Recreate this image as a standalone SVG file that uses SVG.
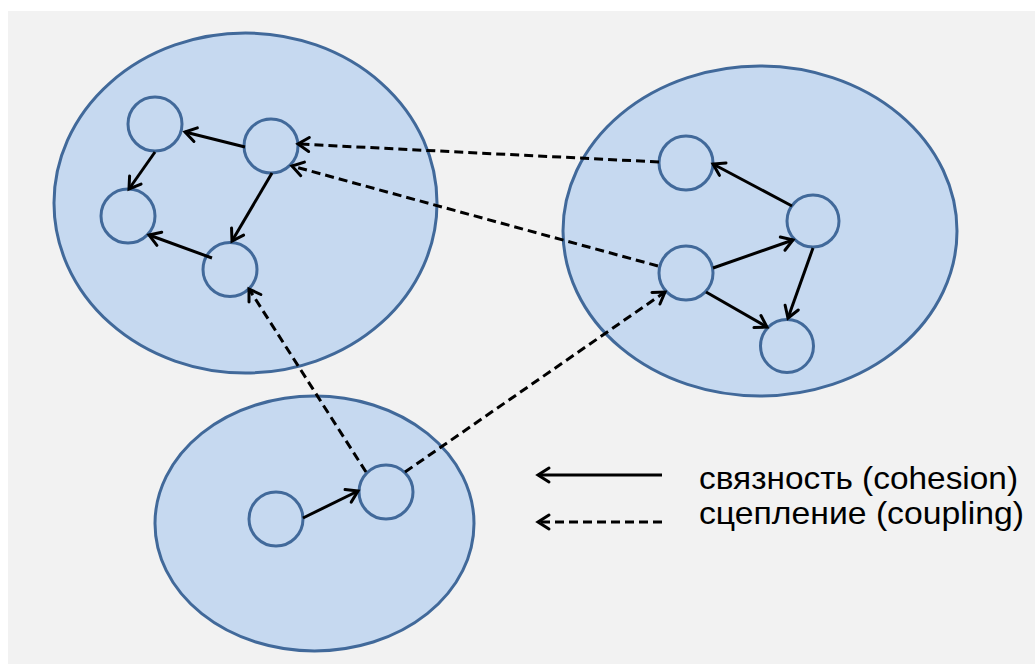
<svg xmlns="http://www.w3.org/2000/svg" width="1035" height="664" viewBox="0 0 1035 664">
<style>
.cluster{fill:#c6d9f0;stroke:#41699a;stroke-width:3}
.node{fill:#c6d9f0;stroke:#41699a;stroke-width:3}
.sol{stroke:#000;stroke-width:3;fill:none;marker-end:url(#arr)}
.dsh{stroke:#000;stroke-width:3;fill:none;stroke-dasharray:9 5;marker-end:url(#arr)}
.lbl{font-family:"Liberation Sans",Arial,sans-serif;font-size:32px;fill:#000}
</style>
<defs>
<marker id="arr" markerUnits="userSpaceOnUse" viewBox="-15 -10 18 20" refX="0" refY="0" markerWidth="18" markerHeight="20" orient="auto">
<path d="M-11,-7 L0,0 L-11,7" fill="none" stroke="#000" stroke-width="3" stroke-linecap="round" stroke-linejoin="miter"/>
</marker>
</defs>
<rect x="0" y="0" width="1035" height="664" fill="#ffffff"/>
<rect x="8" y="11" width="1027" height="653" fill="#f2f2f2"/>
<g id="cluster1"><ellipse class="cluster" cx="245.5" cy="203" rx="191.5" ry="170"/></g>
<g id="cluster2"><ellipse class="cluster" cx="760" cy="231" rx="197" ry="165"/></g>
<g id="cluster3"><ellipse class="cluster" cx="314.5" cy="523.5" rx="159.5" ry="127.5"/></g>
<g id="nodeA"><circle class="node" cx="155" cy="124" r="27"/></g>
<g id="nodeB"><circle class="node" cx="271" cy="146" r="27"/></g>
<g id="nodeC"><circle class="node" cx="128" cy="216" r="27"/></g>
<g id="nodeD"><circle class="node" cx="230" cy="269.5" r="27"/></g>
<g id="nodeE"><circle class="node" cx="686" cy="163" r="27"/></g>
<g id="nodeF"><circle class="node" cx="813" cy="221" r="26"/></g>
<g id="nodeG"><circle class="node" cx="686" cy="273" r="27"/></g>
<g id="nodeH"><circle class="node" cx="787" cy="346" r="26.5"/></g>
<g id="nodeI"><circle class="node" cx="276" cy="519" r="27"/></g>
<g id="nodeJ"><circle class="node" cx="386" cy="492" r="27"/></g>
<g id="connectors">
<line class="sol" x1="245" y1="147" x2="185" y2="132"/>
<line class="sol" x1="155" y1="152" x2="129" y2="189"/>
<line class="sol" x1="272" y1="173" x2="232" y2="241"/>
<line class="sol" x1="212" y1="258" x2="149" y2="235"/>
<line class="sol" x1="792" y1="206" x2="713" y2="164"/>
<line class="sol" x1="713" y1="268" x2="793" y2="240"/>
<line class="sol" x1="813" y1="248" x2="788" y2="318"/>
<line class="sol" x1="706" y1="292" x2="767" y2="327"/>
<line class="sol" x1="303" y1="518" x2="358" y2="491"/>
<line class="dsh" x1="659" y1="162" x2="298" y2="144"/>
<line class="dsh" x1="658" y1="266" x2="292" y2="166"/>
<line class="dsh" x1="366" y1="472" x2="249" y2="289"/>
<line class="dsh" x1="405" y1="472" x2="665" y2="292"/>
</g>
<g id="legend">
<line class="sol" x1="662" y1="475" x2="538" y2="475"/>
<line class="dsh" x1="662" y1="522" x2="538" y2="522"/>
<text class="lbl" x="699" y="489" textLength="319" lengthAdjust="spacingAndGlyphs">связность (cohesion)</text>
<text class="lbl" x="699" y="524" textLength="325" lengthAdjust="spacingAndGlyphs">сцепление (coupling)</text>
</g>
</svg>
